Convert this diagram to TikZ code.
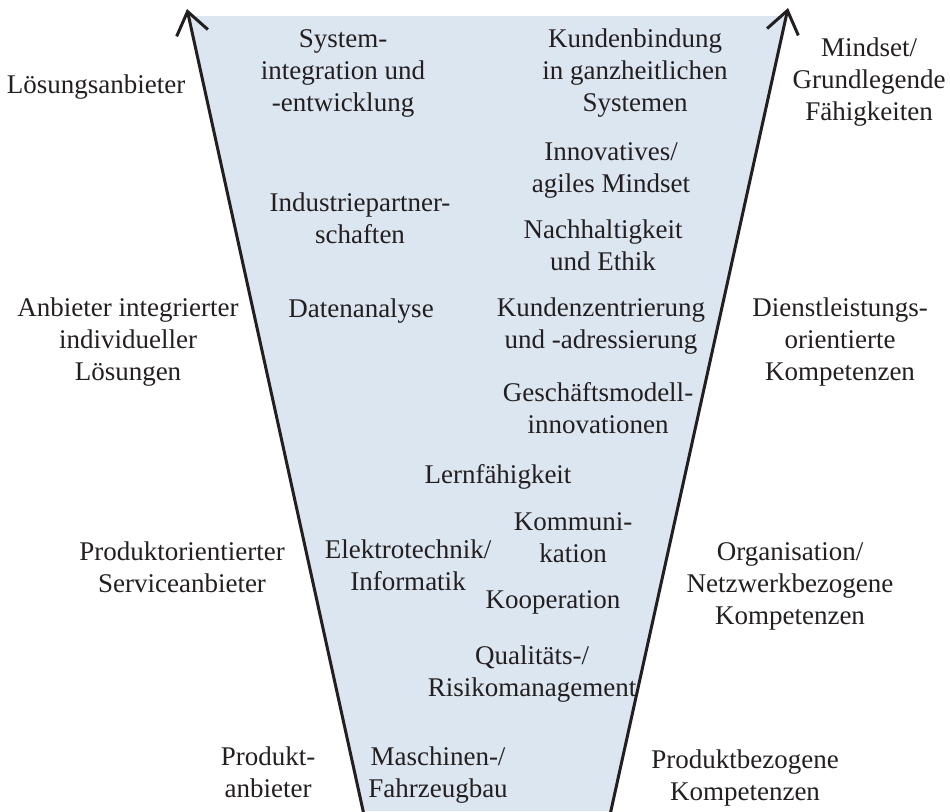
\documentclass[tikz,border=0pt]{standalone}
\usepackage{fontspec}
\setmainfont{Liberation Serif}
\usetikzlibrary{arrows.meta}
\definecolor{funnelblue}{HTML}{DCE6F0}
\definecolor{txt}{HTML}{231F20}
\tikzset{
  lbl/.style={inner sep=0pt, align=center, anchor=north, text=txt,
    font=\fontsize{27}{32}\selectfont,
    execute at begin node={\rule{0pt}{20pt}}},
  edge/.style={line width=3pt, draw=txt, -{Straight Barb[length=22pt,width=32pt,line width=3pt]}},
}
\begin{document}
\begin{tikzpicture}[x=1pt,y=-1pt]
\useasboundingbox (0,0) rectangle (950,811);
% funnel
\coordinate (lt) at (187,9);
\coordinate (lb) at (364,815);
\coordinate (rt) at (788,8);
\coordinate (rb) at (610,815);
\fill[funnelblue] (188.5,16) -- (786,16) -- (611,811) -- (363,811) -- cycle;
\draw[edge] (lb) -- (lt);
\draw[edge] (rb) -- (rt);
% left labels (position = centre x, first baseline - 20)
\node[lbl] (l1) at (96,73) {Lösungsanbieter};
\node[lbl] (l2) at (128,298) {Anbieter integrierter\\individueller\\Lösungen};
\node[lbl] (l3) at (182,542) {Produktorientierter\\Serviceanbieter};
\node[lbl] (l4) at (268,747) {Produkt-\\anbieter};
% right labels
\node[lbl] (r1) at (869,38) {Mindset/\\Grundlegende\\Fähigkeiten};
\node[lbl] (r2) at (840,298) {Dienstleistungs-\\orientierte\\Kompetenzen};
\node[lbl] (r3) at (790,542) {Organisation/\\Netzwerkbezogene\\Kompetenzen};
\node[lbl] (r4) at (745,750) {Produktbezogene\\Kompetenzen};
% inside
\node[lbl] (c1) at (343,29) {System-\\integration und\\-entwicklung};
\node[lbl] (c2) at (635,29) {Kundenbindung\\in ganzheitlichen\\Systemen};
\node[lbl] (c3) at (611,142) {Innovatives/\\agiles Mindset};
\node[lbl] (c4) at (360,193) {Industriepartner-\\schaften};
\node[lbl] (c5) at (603,220) {Nachhaltigkeit\\und Ethik};
\node[lbl] (c6) at (361,297) {Datenanalyse};
\node[lbl] (c7) at (601,298) {Kundenzentrierung\\und -adressierung};
\node[lbl] (c8) at (598,382) {Geschäftsmodell-\\innovationen};
\node[lbl] (c9) at (498,463) {Lernfähigkeit};
\node[lbl] (c10) at (573,512) {Kommuni-\\kation};
\node[lbl] (c11) at (408,540) {Elektrotechnik/\\Informatik};
\node[lbl] (c12) at (553,588) {Kooperation};
\node[lbl] (c13) at (532,646) {Qualitäts-/\\Risikomanagement};
\node[lbl] (c14) at (438,747) {Maschinen-/\\Fahrzeugbau};
\end{tikzpicture}
\end{document}
